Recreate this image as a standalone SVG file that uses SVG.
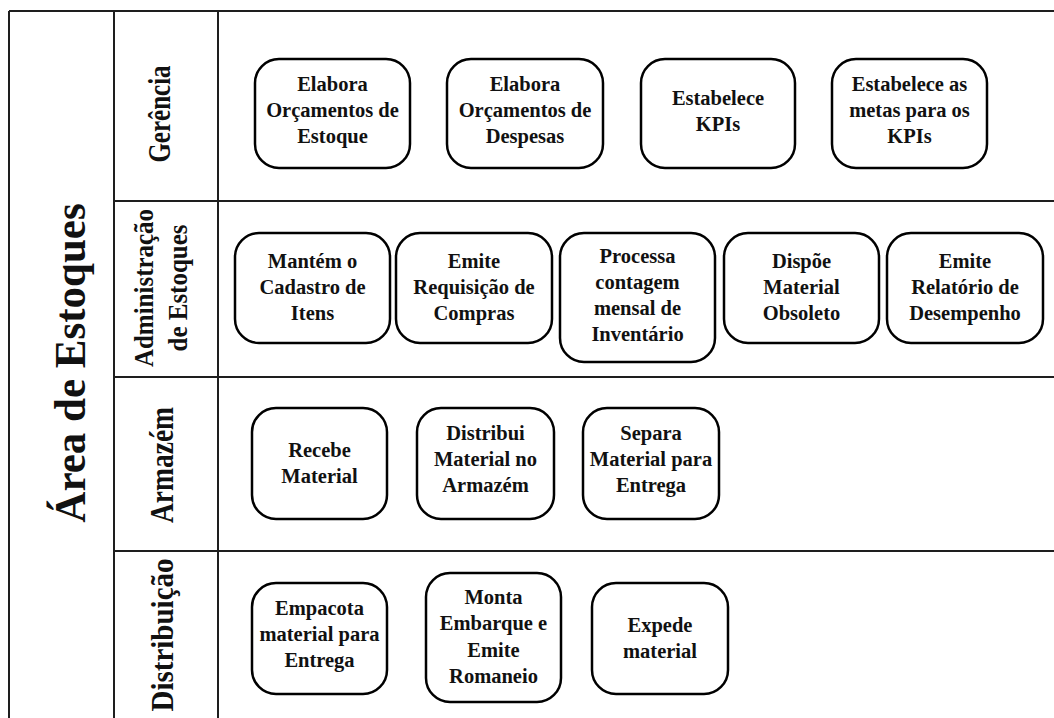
<svg xmlns="http://www.w3.org/2000/svg" width="1054" height="718" viewBox="0 0 1054 718">
<style>
.lane{stroke:#1e1e1e;stroke-width:2;fill:none}
.box{fill:#fff;stroke:#000;stroke-width:2.5}
.t{font-family:"Liberation Serif","Times New Roman",serif;font-weight:bold;font-size:20.5px;fill:#111;text-anchor:middle}
.lbl{font-family:"Liberation Serif","Times New Roman",serif;font-weight:bold;font-size:25px;fill:#111;text-anchor:middle}
.title{font-family:"Liberation Serif","Times New Roman",serif;font-weight:bold;font-size:43px;fill:#111;text-anchor:middle}
</style>
<rect width="1054" height="718" fill="#fff"/>
<g id="lanes">
<line class="lane" x1="9" y1="11" x2="1054" y2="11"/>
<line class="lane" x1="9" y1="11" x2="9" y2="718"/>
<line class="lane" x1="114" y1="11" x2="114" y2="718"/>
<line class="lane" x1="218" y1="11" x2="218" y2="718"/>
<line class="lane" x1="114" y1="201" x2="1054" y2="201"/>
<line class="lane" x1="114" y1="377" x2="1054" y2="377"/>
<line class="lane" x1="114" y1="551" x2="1054" y2="551"/>
</g>
<g id="labels">
<text class="title" transform="translate(85,363) rotate(-90) scale(1,1.05)">Área de Estoques</text>
<text class="lbl" transform="translate(170,114) rotate(-90) scale(1,1.25)">Gerência</text>
<text class="lbl" transform="translate(153,288) rotate(-90) scale(1,1.08)">Administração</text>
<text class="lbl" transform="translate(187,288) rotate(-90) scale(1,1.08)">de Estoques</text>
<text class="lbl" style="font-size:27.5px" transform="translate(173,465) rotate(-90) scale(1,1.2)">Armazém</text>
<text class="lbl" style="font-size:29px" transform="translate(173,635) rotate(-90) scale(1,1.1)">Distribuição</text>
</g>
<g id="connectors"></g>
<g id="n1"><rect class="box" x="255" y="59" width="155" height="109" rx="24"/>
<text class="t" x="332.5"><tspan y="90.5">Elabora</tspan><tspan x="332.5" y="116.5">Orçamentos de</tspan><tspan x="332.5" y="142.5">Estoque</tspan></text></g>
<g id="n2"><rect class="box" x="447" y="59" width="156" height="109" rx="24"/>
<text class="t" x="525"><tspan y="90.5">Elabora</tspan><tspan x="525" y="116.5">Orçamentos de</tspan><tspan x="525" y="142.5">Despesas</tspan></text></g>
<g id="n3"><rect class="box" x="641" y="59" width="154" height="109" rx="24"/>
<text class="t" x="718"><tspan y="104.5">Estabelece</tspan><tspan x="718" y="130.5">KPIs</tspan></text></g>
<g id="n4"><rect class="box" x="832" y="59" width="155" height="109" rx="24"/>
<text class="t" x="909.5"><tspan y="91">Estabelece as</tspan><tspan x="909.5" y="117">metas para os</tspan><tspan x="909.5" y="143">KPIs</tspan></text></g>
<g id="n5"><rect class="box" x="235" y="233" width="155" height="110" rx="24"/>
<text class="t" x="312.5"><tspan y="267.5">Mantém o</tspan><tspan x="312.5" y="293.5">Cadastro de</tspan><tspan x="312.5" y="319.5">Itens</tspan></text></g>
<g id="n6"><rect class="box" x="396" y="233" width="156" height="110" rx="24"/>
<text class="t" x="474"><tspan y="267.5">Emite</tspan><tspan x="474" y="293.5">Requisição de</tspan><tspan x="474" y="319.5">Compras</tspan></text></g>
<g id="n7"><rect class="box" x="560" y="233" width="155" height="129" rx="24"/>
<text class="t" x="637.5"><tspan y="263">Processa</tspan><tspan x="637.5" y="289">contagem</tspan><tspan x="637.5" y="315">mensal de</tspan><tspan x="637.5" y="341">Inventário</tspan></text></g>
<g id="n8"><rect class="box" x="724" y="233" width="155" height="110" rx="24"/>
<text class="t" x="801.5"><tspan y="267.5">Dispõe</tspan><tspan x="801.5" y="293.5">Material</tspan><tspan x="801.5" y="319.5">Obsoleto</tspan></text></g>
<g id="n9"><rect class="box" x="887" y="233" width="156" height="110" rx="24"/>
<text class="t" x="965"><tspan y="267.5">Emite</tspan><tspan x="965" y="293.5">Relatório de</tspan><tspan x="965" y="319.5">Desempenho</tspan></text></g>
<g id="n10"><rect class="box" x="252" y="408" width="135" height="111" rx="24"/>
<text class="t" x="319.5"><tspan y="456.5">Recebe</tspan><tspan x="319.5" y="482.5">Material</tspan></text></g>
<g id="n11"><rect class="box" x="417" y="408" width="137" height="111" rx="24"/>
<text class="t" x="485.5"><tspan y="440">Distribui</tspan><tspan x="485.5" y="466">Material no</tspan><tspan x="485.5" y="492">Armazém</tspan></text></g>
<g id="n12"><rect class="box" x="583" y="408" width="136" height="111" rx="24"/>
<text class="t" x="651"><tspan y="440">Separa</tspan><tspan x="651" y="466">Material para</tspan><tspan x="651" y="492">Entrega</tspan></text></g>
<g id="n13"><rect class="box" x="252" y="583" width="135" height="111" rx="24"/>
<text class="t" x="319.5"><tspan y="614.5">Empacota</tspan><tspan x="319.5" y="640.5">material para</tspan><tspan x="319.5" y="666.5">Entrega</tspan></text></g>
<g id="n14"><rect class="box" x="426" y="573" width="135" height="129" rx="24"/>
<text class="t" x="493.5"><tspan y="603.5">Monta</tspan><tspan x="493.5" y="630">Embarque e</tspan><tspan x="493.5" y="656.5">Emite</tspan><tspan x="493.5" y="683">Romaneio</tspan></text></g>
<g id="n15"><rect class="box" x="592" y="583" width="136" height="111" rx="24"/>
<text class="t" x="660"><tspan y="631.5">Expede</tspan><tspan x="660" y="657.5">material</tspan></text></g>
</svg>
